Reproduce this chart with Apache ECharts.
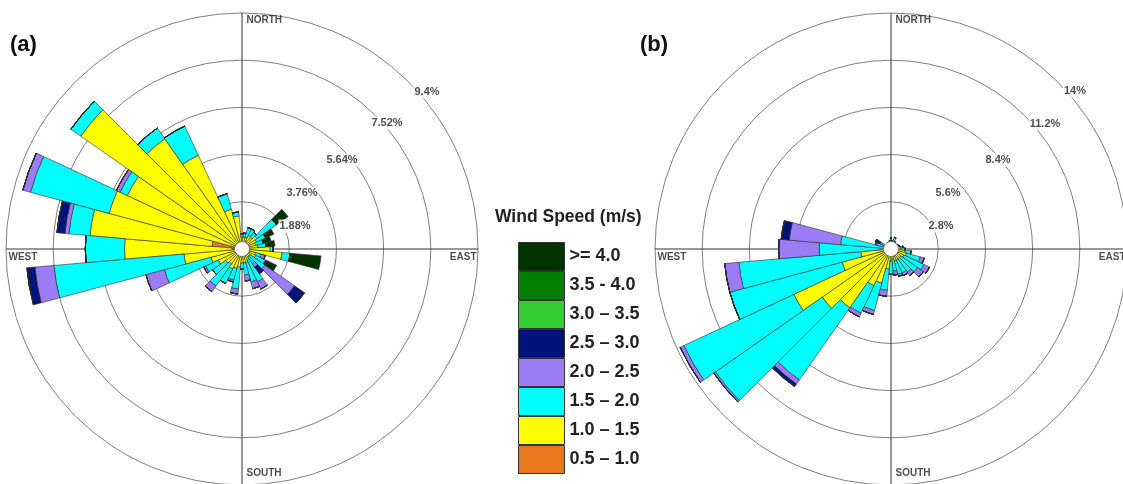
<!DOCTYPE html>
<html><head><meta charset="utf-8">
<script src="https://cdn.jsdelivr.net/npm/echarts@6/dist/echarts.min.js"></script>
<style>html,body{margin:0;padding:0;background:#fff}#c{width:1123px;height:484px}</style>
</head><body><div id="c"></div>
<script>
// ---- categories ----
const directions = ['0','10','20','30','40','50','60','70','80','90','100','110','120','130','140','150','160','170',
  '180','190','200','210','220','230','240','250','260','270','280','290','300','310','320','330','340','350'];
const speedClasses = ['0.5 – 1.0','1.0 – 1.5','1.5 – 2.0','2.0 – 2.5','2.5 – 3.0','3.0 – 3.5','3.5 - 4.0','>= 4.0'];
const classColors = ['#e8781e','#ffff00','#00ffff','#9b7cf4','#00137a','#33cc33','#008000','#003300'];

// ---- rose (a) frequencies (%) per speed class, per direction ----
const a_05_10 = [0,0,0,0,0,0,0,0,0,0,0,0,0,0,0,0,0,0,0,0,0,0,0,0,0,0,0,0.4,1.2,0,0,0,0,0,0,0];
const a_10_15 = [0.48,0.48,0.48,0.6,0.56,0.72,0.64,0.56,0.64,1.12,1.6,0.56,0.6,0.4,0.4,0.48,0.56,0.56,0.56,0.72,0.8,0.88,0.72,0.8,1.04,1.28,2.32,4.28,4.88,5.48,5.04,7.84,5.36,4.12,1.64,1.32];
const a_15_20 = [0.12,0.16,0.4,0.28,0.24,0.96,0.4,0.32,0.32,0.12,0.32,0.24,0.44,0.72,0.32,0.96,0.8,0.48,0.24,0.88,0.48,0.64,1.08,0.64,0.56,1.92,5.2,1.56,0.84,3.24,0.32,0.48,0.52,1.28,0.64,0.16];
const a_20_25 = [0,0,0,0,0,0,0,0,0,0,0,0.16,0,1.44,0.16,0.32,0.28,0.24,0,0.2,0.08,0,0.28,0,0.08,0.76,0.76,0,0.16,0.32,0.16,0,0,0,0,0];
const a_25_30 = [0,0,0,0,0,0,0,0,0,0,0,0,0.12,0.48,0.32,0,0,0,0,0,0,0,0,0,0,0,0.32,0,0.32,0,0,0,0,0,0,0];
const a_30_35 = [0,0,0,0,0,0,0,0,0,0,0,0,0,0,0,0,0,0,0,0,0,0,0,0,0,0,0,0,0,0,0,0,0,0,0,0];
const a_35_40 = [0,0,0,0,0,0,0,0,0,0,0,0,0,0,0,0,0,0,0,0,0,0,0,0,0,0,0,0,0,0,0,0,0,0,0,0];
const a_40_up = [0,0,0,0,0,0.56,0.36,0.32,0.36,0,1.24,0,0.36,0,0,0,0,0,0,0,0,0,0,0,0,0,0,0,0,0,0,0,0,0,0,0];

// ---- rose (b) ----
const b_05_10 = [0,0,0,0,0,0,0,0,0,0,0,0,0,0,0,0,0,0,0,0,0,0,0,0,0,0,0,0,0,0,0,0,0,0,0,0];
const b_10_15 = [0.54,0.48,0.54,0.48,0.42,0.42,0.48,0.54,0.6,0.6,0.84,0.96,0.84,0.72,0.72,0.72,0.72,0.6,0.72,1.2,2.1,2.4,4.26,4.98,6.36,3.0,1.8,0.42,0.42,0.48,0.36,0.36,0.36,0.36,0.42,0.48];
const b_15_20 = [0.12,0,0.18,0,0,0,0,0,0.12,0.24,0.36,0.84,1.32,1.2,0.96,0.84,0.84,0.72,0.78,1.26,1.68,1.8,5.22,7.74,7.2,6.9,7.26,3.84,2.58,0.36,0.24,0,0,0,0,0];
const b_20_25 = [0,0,0,0,0,0,0,0,0,0,0,0.24,0.36,0.42,0.24,0.18,0.12,0.24,0,0.36,0.24,0.24,0.3,0.12,0.24,0,0.84,2.4,3.06,0.12,0.12,0,0,0,0,0];
const b_25_30 = [0,0,0,0,0,0,0,0,0,0,0,0,0,0,0,0,0,0,0,0,0,0,0.18,0,0,0,0,0,0.48,0,0.3,0,0,0,0,0];
const b_30_35 = [0,0,0,0,0,0,0,0,0,0,0,0,0,0,0,0,0,0,0,0,0,0,0,0,0,0,0,0,0,0,0,0,0,0,0,0];
const b_35_40 = [0,0,0,0,0,0,0,0,0,0,0,0,0,0,0,0,0,0,0,0,0,0,0,0,0,0,0,0,0,0,0,0,0,0,0,0];
const b_40_up = [0,0,0,0,0,0,0,0,0,0,0,0,0,0,0,0,0,0,0,0,0,0,0,0,0,0,0,0,0,0,0,0,0,0,0,0];

// ---- axis tick labels ----
const ringTicksA = ['1.88%','3.76%','5.64%','7.52%','9.4%'];
const ringTicksB = ['2.8%','5.6%','8.4%','11.2%','14%'];
const maxA = 9.4, stepA = 1.88, maxB = 14, stepB = 2.8;
const compassLabels = ['NORTH','EAST','SOUTH','WEST'];

// ---- layout ----
const FONT = 'Liberation Sans, Arial, sans-serif';
const R = 236;
const centerA = [242, 249], centerB = [891, 249];
const LABEL_BEARING = 49;
// desired label centres (px from rose centre) for ring labels
const ringLabelPxA = [[53,-23],[60,-56],[100,-89],[145,-126],[185,-157]];
const ringLabelPxB = [[50,-23],[57,-56],[107,-89],[154,-125],[184,-158]];

function labelOffset(i, pxPos) {
  const rPx = (i + 1) / 5 * R;
  const a = LABEL_BEARING * Math.PI / 180;
  return [pxPos[i][0] - rPx * Math.sin(a), pxPos[i][1] + rPx * Math.cos(a)];
}

function roseSeries(pi, arrays) {
  return speedClasses.map((name, k) => ({
    type: 'bar', coordinateSystem: 'polar', polarIndex: pi, stack: 'rose' + pi, name,
    data: arrays[k], barCategoryGap: '0%',
    itemStyle: { color: classColors[k], borderColor: '#2a2a2a', borderWidth: 0.6 },
    emphasis: { disabled: true }, silent: true
  }));
}

function labelSeries(pi, max, step, ticks, pxPos) {
  return [{
    type: 'scatter', coordinateSystem: 'polar', polarIndex: pi, symbolSize: 1, z: 10, silent: true,
    itemStyle: { color: 'rgba(0,0,0,0)' },
    label: { show: true, position: 'inside', fontSize: 11, fontWeight: 'bold', color: '#222',
             fontFamily: FONT, backgroundColor: '#fff', padding: [1, 1] },
    data: ticks.map((t, i) => ({ value: [step * (i + 1), LABEL_BEARING],
      label: { formatter: t, offset: labelOffset(i, pxPos) } }))
  }, {
    type: 'scatter', coordinateSystem: 'polar', polarIndex: pi, symbolSize: 1, z: 10, silent: true,
    itemStyle: { color: 'rgba(0,0,0,0)' },
    label: { show: true, fontSize: 10, fontWeight: 'bold', color: '#222', fontFamily: FONT },
    data: [
      { value: [max, 0], label: { formatter: compassLabels[0], position: [5, 3] } },
      { value: [max, 90], label: { formatter: compassLabels[1], position: [-1, 4], align: 'right' } },
      { value: [max, 180], label: { formatter: compassLabels[2], position: [5, -16] } },
      { value: [max, 270], label: { formatter: compassLabels[3], position: [3, 4] } }
    ]
  }, {
    type: 'scatter', coordinateSystem: 'polar', polarIndex: pi, symbolSize: 15, z: 8, silent: true,
    itemStyle: { color: '#fff', opacity: 1, borderColor: '#777', borderWidth: 1 },
    data: [[0, 0]]
  }];
}

const catAngle = (pi) => ({ polarIndex: pi, type: 'category', data: directions, startAngle: 95, clockwise: true,
  boundaryGap: true, show: false });
const valAngle = (pi) => ({ polarIndex: pi, type: 'value', min: 0, max: 360, interval: 90, startAngle: 90, clockwise: true,
  axisLine: { show: false }, axisTick: { show: false }, axisLabel: { show: false },
  splitLine: { show: true, lineStyle: { color: '#333', width: 1 } } });
const ringRadius = (pi, max, step) => ({ polarIndex: pi, type: 'value', min: 0, max, interval: step,
  axisLine: { show: false }, axisTick: { show: false }, axisLabel: { show: false },
  splitLine: { show: true, lineStyle: { color: '#808080', width: 1 } } });
const hiddenRadius = (pi, max) => ({ polarIndex: pi, type: 'value', min: 0, max, show: false });

const chart = echarts.init(document.getElementById('c'), null, { renderer: 'canvas' });
chart.setOption({
  animation: false,
  backgroundColor: '#fff',
  textStyle: { fontFamily: FONT },
  title: [
    { text: '(a)', left: 10, top: 34, padding: 0, textStyle: { fontSize: 22, fontWeight: 'bold', color: '#111', fontFamily: FONT } },
    { text: '(b)', left: 640, top: 34, padding: 0, textStyle: { fontSize: 22, fontWeight: 'bold', color: '#111', fontFamily: FONT } },
    { text: 'Wind Speed (m/s)', left: 495, top: 208, padding: 0, textStyle: { fontSize: 17.5, fontWeight: 'bold', color: '#222', fontFamily: FONT } }
  ],
  legend: {
    orient: 'vertical', left: 518, top: 242, padding: 0, itemWidth: 46, itemHeight: 28, itemGap: 0,
    icon: 'rect', selectedMode: false, data: speedClasses.slice().reverse(),
    itemStyle: { borderColor: '#333', borderWidth: 1 },
    textStyle: { fontSize: 18, fontWeight: 'bold', color: '#222', fontFamily: FONT }
  },
  polar: [
    { center: centerA, radius: [0, R] },
    { center: centerB, radius: [0, R] },
    { center: centerA, radius: [0, R] },
    { center: centerB, radius: [0, R] }
  ],
  angleAxis: [catAngle(0), catAngle(1), valAngle(2), valAngle(3)],
  radiusAxis: [ringRadius(0, maxA, stepA), ringRadius(1, maxB, stepB), hiddenRadius(2, maxA), hiddenRadius(3, maxB)],
  series: [
    ...roseSeries(0, [a_05_10, a_10_15, a_15_20, a_20_25, a_25_30, a_30_35, a_35_40, a_40_up]),
    ...roseSeries(1, [b_05_10, b_10_15, b_15_20, b_20_25, b_25_30, b_30_35, b_35_40, b_40_up]),
    ...labelSeries(2, maxA, stepA, ringTicksA, ringLabelPxA),
    ...labelSeries(3, maxB, stepB, ringTicksB, ringLabelPxB)
  ]
});
</script></body></html>
